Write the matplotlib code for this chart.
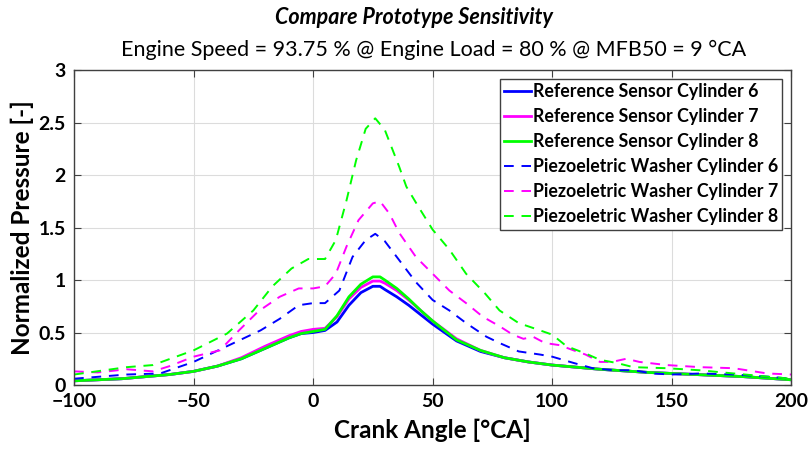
import numpy as np
import matplotlib.pyplot as plt

# crank angle grids
ca_ref = [-100, -90, -80, -70, -60, -50, -40, -30, -20, -10, -5, 0, 5, 10, 15, 20, 25, 28,
          30, 35, 40, 45, 50, 60, 70, 80, 90, 100, 120, 140, 160, 180, 200]
ref_cyl6 = [0.04, 0.05, 0.06, 0.08, 0.10, 0.13, 0.18, 0.25, 0.35, 0.45, 0.49, 0.50, 0.52, 0.60,
            0.76, 0.88, 0.94, 0.94, 0.91, 0.84, 0.76, 0.67, 0.58, 0.42, 0.32, 0.26, 0.22, 0.19,
            0.15, 0.12, 0.10, 0.08, 0.05]
ref_cyl7 = [0.04, 0.05, 0.06, 0.08, 0.10, 0.13, 0.18, 0.26, 0.37, 0.47, 0.51, 0.53, 0.54, 0.65,
            0.82, 0.93, 0.99, 0.99, 0.97, 0.90, 0.81, 0.71, 0.61, 0.44, 0.33, 0.26, 0.22, 0.19,
            0.15, 0.12, 0.10, 0.08, 0.05]
ref_cyl8 = [0.04, 0.05, 0.06, 0.08, 0.10, 0.13, 0.18, 0.25, 0.35, 0.45, 0.49, 0.51, 0.53, 0.66,
            0.84, 0.96, 1.03, 1.03, 1.00, 0.92, 0.82, 0.71, 0.61, 0.43, 0.33, 0.26, 0.22, 0.19,
            0.15, 0.12, 0.10, 0.08, 0.05]

ca_pw8 = [-100, -78, -67, -50, -36, -25, -17, -9, -2, 5, 9.5, 14, 18, 22, 26, 30, 36, 39, 44,
          50, 57, 64, 72, 78, 86, 95, 100, 106, 114, 120, 127, 134, 148, 162, 176, 190, 200]
pw_cyl8 = [0.10, 0.17, 0.19, 0.33, 0.49, 0.71, 0.94, 1.11, 1.20, 1.20, 1.38, 1.76, 2.14, 2.44,
           2.54, 2.43, 2.08, 1.89, 1.70, 1.48, 1.29, 1.06, 0.87, 0.71, 0.59, 0.52, 0.48, 0.37,
           0.30, 0.24, 0.21, 0.17, 0.16, 0.14, 0.11, 0.08, 0.06]

ca_pw7 = [-100, -90, -78, -67, -60, -50, -39, -31, -23, -14, -6, 0, 5, 9.5, 14, 19, 25, 28, 32,
          36, 43, 50, 57, 64, 71, 78, 83.5, 88, 92, 97, 103, 109, 114, 120, 125, 131, 136.5,
          148, 162, 176, 190, 200]
pw_cyl7 = [0.13, 0.12, 0.15, 0.13, 0.18, 0.27, 0.33, 0.52, 0.70, 0.84, 0.92, 0.92, 0.94, 1.06,
           1.32, 1.57, 1.73, 1.75, 1.63, 1.45, 1.22, 1.06, 0.90, 0.78, 0.65, 0.56, 0.48, 0.44,
           0.46, 0.40, 0.38, 0.33, 0.29, 0.22, 0.22, 0.25, 0.22, 0.19, 0.17, 0.16, 0.11, 0.10]

ca_pw6 = [-100, -78, -64, -50, -36, -22, -14, -6, 0, 5, 11, 16.5, 22, 26, 30, 36, 43, 50, 57,
          64, 72.5, 78, 86, 95, 100, 109, 117, 126, 134, 142, 150, 162, 176, 190, 200]
pw_cyl6 = [0.06, 0.10, 0.11, 0.22, 0.37, 0.52, 0.63, 0.76, 0.78, 0.78, 0.90, 1.22, 1.38, 1.44,
           1.37, 1.19, 0.98, 0.81, 0.71, 0.59, 0.46, 0.40, 0.32, 0.29, 0.27, 0.21, 0.16, 0.14,
           0.14, 0.11, 0.10, 0.11, 0.10, 0.08, 0.06]

labels = ['Reference Sensor Cylinder 6', 'Reference Sensor Cylinder 7', 'Reference Sensor Cylinder 8',
          'Piezoeletric Washer Cylinder 6', 'Piezoeletric Washer Cylinder 7', 'Piezoeletric Washer Cylinder 8']
colori = ['#0000ff', '#ff00ff', '#00ff00']

plt.rcParams['font.family'] = ['Lato', 'DejaVu Sans']

fig = plt.figure(figsize=(8.09, 4.5), dpi=100)
ax = fig.add_axes([0.0915, 0.1444, 0.8865, 0.70])

ax.plot(ca_ref, ref_cyl6, color=colori[0], lw=2.0, label=labels[0])
ax.plot(ca_ref, ref_cyl7, color=colori[1], lw=2.0, label=labels[1])
ax.plot(ca_ref, ref_cyl8, color=colori[2], lw=2.0, label=labels[2])
ax.plot(ca_pw6, pw_cyl6, color=colori[0], lw=1.4, ls=(0, (5, 4)), label=labels[3])
ax.plot(ca_pw7, pw_cyl7, color=colori[1], lw=1.4, ls=(0, (5, 4)), label=labels[4])
ax.plot(ca_pw8, pw_cyl8, color=colori[2], lw=1.4, ls=(0, (5, 4)), label=labels[5])

ax.set_xlim(-100, 200)
ax.set_ylim(0, 3)
ax.set_xticks([-100, -50, 0, 50, 100, 150, 200])
ax.set_yticks([0, 0.5, 1, 1.5, 2, 2.5, 3])
ax.set_yticklabels(['0', '0.5', '1', '1.5', '2', '2.5', '3'])
ax.grid(True, color='#dcdcdc', lw=0.8)
ax.tick_params(direction='in', top=True, right=True, length=5, color='#404040',
               labelsize=14, pad=6)
for lab in ax.get_xticklabels() + ax.get_yticklabels():
    lab.set_fontweight('bold')
for s in ax.spines.values():
    s.set_color('#404040')
    s.set_linewidth(1.0)

ax.set_xlabel('Crank Angle [°CA]', fontsize=17.5, fontweight='bold', labelpad=6)
ax.set_ylabel('Normalized Pressure [-]', fontsize=17.5, fontweight='bold', labelpad=3)

fig.text(0.512, 0.962, 'Compare Prototype Sensitivity', fontsize=15.5, fontweight='bold',
         style='italic', ha='center', va='center')
fig.text(0.536, 0.889, 'Engine Speed = 93.75 % @ Engine Load = 80 % @ MFB50 = 9 °CA',
         fontsize=15.5, ha='center', va='center')

leg = ax.legend(loc='upper right', prop={'weight': 'bold', 'size': 12.8},
                handlelength=1.5, handletextpad=0.1, borderpad=0.25, labelspacing=0.45,
                fancybox=False, edgecolor='#404040', framealpha=1, borderaxespad=0.5)
leg.get_frame().set_linewidth(1.0)

fig.savefig('out.png', dpi=100)
